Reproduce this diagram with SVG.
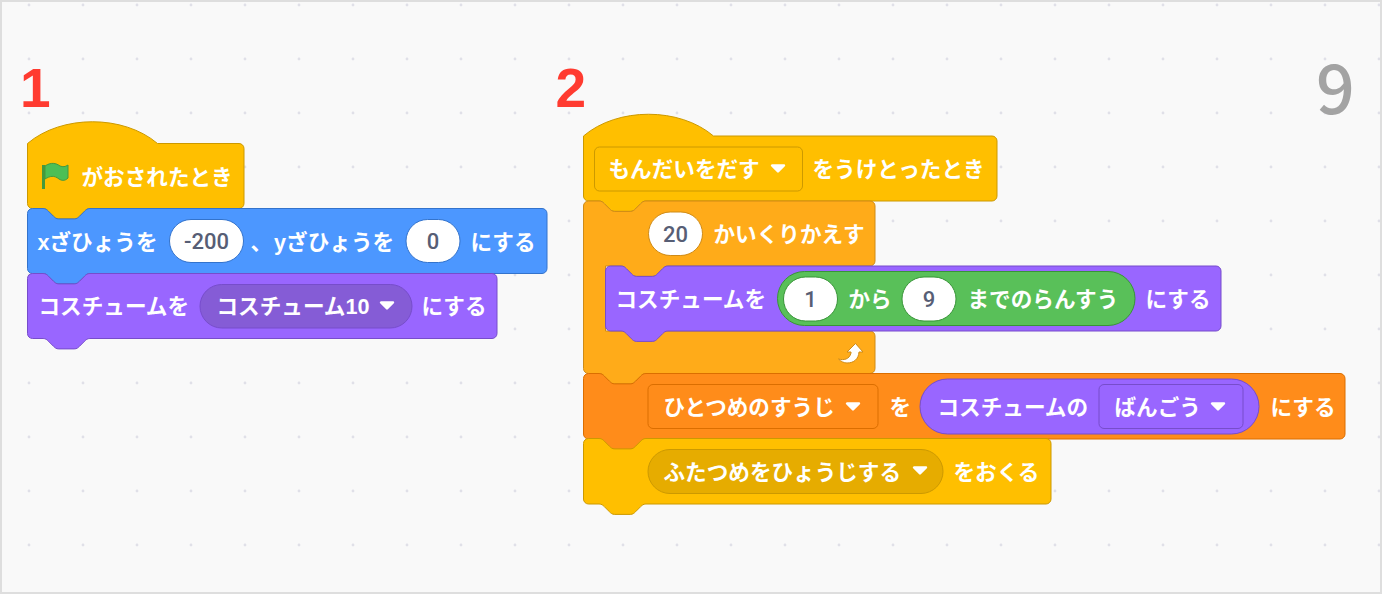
<svg xmlns="http://www.w3.org/2000/svg" width="1382" height="594" viewBox="0 0 1382 594">
<style>
.t{font-family:"Liberation Sans","Noto Sans CJK JP",sans-serif;font-weight:700;font-size:21.6px;fill:#fff}
.n{font-family:"Roboto","Liberation Sans",sans-serif;font-weight:500;font-size:22px;fill:#575e75;text-anchor:middle}
.w{fill:#fff;stroke-width:1}
.ev{fill:#ffbf00;stroke:#cc9900}
.mo{fill:#4c97ff;stroke:#3373cc}
.lo{fill:#9966ff;stroke:#774dcb}
.ct{fill:#ffab19;stroke:#cf8b17}
.da{fill:#ff8c1a;stroke:#db6e00}
.op{fill:#59c059;stroke:#389438}
.big{font-family:"Liberation Sans",sans-serif;font-weight:700;font-size:55px;fill:#ff3b30}
</style>
<defs>
<pattern id="dots" x="2" y="-22" width="54" height="54" patternUnits="userSpaceOnUse"><circle cx="27" cy="27" r="1.4" fill="#e0e0e8"/></pattern>
<path id="arr" d="M-6-3.500h12l-6 6z" fill="#fff" stroke="#fff" stroke-width="2.400" stroke-linejoin="round"/>
</defs>
<rect width="1382" height="594" fill="#f9f9f9"/>
<rect width="1382" height="594" fill="url(#dots)"/>
<rect x="1" y="1" width="1380" height="592" fill="none" stroke="#dedede" stroke-width="2"/>
<text id="num1" class="big" x="20" y="107">1</text>
<text id="num2" class="big" x="555.500" y="107">2</text>
<text id="num9" x="1316" y="113.500" font-family="Noto Sans CJK JP,Noto Sans,sans-serif" font-size="68" font-weight="500" fill="#a3a3a3">9</text>

<g id="stack1-hat">
<path class="ev" d="M27.500 143.500c34-29 96-29 130 0H239a5 5 0 0 1 5 5V203.500a5 5 0 0 1-5 5H89.900c-2.600 0-3.900 1.300-5.200 2.600l-5.200 5.200c-1.300 1.300-2.600 2.600-5.200 2.600h-15.600c-2.600 0-3.900-1.300-5.200-2.600l-5.200-5.200c-1.300-1.300-2.600-2.600-5.200-2.600H32.500a5 5 0 0 1-5-5Z"/>
<path d="M43.500 165V189" stroke="#45993d" stroke-width="3" fill="none"/>
<path d="M45 166c6-4 11-3 15 0 3 1 5 1 8-1v13c-3 3-6 3-9 1-5-4-9-3-14 0Z" fill="#4cbf56" stroke="#45993d"/>
<text class="t" x="81.500" y="185">がおされたとき</text>
</g>

<g id="stack1-goto">
<path class="mo" d="M27.500 213.500a5 5 0 0 1 5-5H43.100c2.600 0 3.900 1.300 5.200 2.600l5.200 5.200c1.300 1.300 2.600 2.600 5.200 2.600h15.600c2.600 0 3.900-1.300 5.200-2.600l5.200-5.200c1.300-1.300 2.600-2.600 5.200-2.600H542a5 5 0 0 1 5 5V268.500a5 5 0 0 1-5 5H89.900c-2.600 0-3.900 1.300-5.200 2.600l-5.200 5.200c-1.300 1.300-2.600 2.600-5.200 2.600h-15.600c-2.600 0-3.900-1.300-5.200-2.600l-5.200-5.200c-1.300-1.300-2.600-2.600-5.200-2.600H32.500a5 5 0 0 1-5-5Z"/>
<text class="t" x="37.500" y="250">xざひょうを</text>
<rect class="w" x="169.500" y="219.500" width="74" height="43" rx="21.500" stroke="#3373cc"/>
<text class="n" x="206.500" y="249">-200</text>
<text class="t" x="250.500" y="250">、<tspan dx="2">yざひょうを</tspan></text>
<rect class="w" x="406" y="219.500" width="54" height="43" rx="21.500" stroke="#3373cc"/>
<text class="n" x="433" y="249">0</text>
<text class="t" x="470.500" y="250">にする</text>
</g>

<g id="stack1-costume">
<path class="lo" d="M27.500 278.500a5 5 0 0 1 5-5H43.100c2.600 0 3.900 1.300 5.200 2.600l5.200 5.200c1.300 1.300 2.600 2.600 5.200 2.600h15.600c2.600 0 3.900-1.300 5.200-2.600l5.200-5.200c1.300-1.300 2.600-2.600 5.200-2.600H492a5 5 0 0 1 5 5V333.500a5 5 0 0 1-5 5H89.900c-2.600 0-3.900 1.300-5.200 2.600l-5.200 5.200c-1.300 1.300-2.600 2.600-5.200 2.600h-15.600c-2.600 0-3.900-1.300-5.200-2.600l-5.200-5.200c-1.300-1.300-2.600-2.600-5.200-2.600H32.500a5 5 0 0 1-5-5Z"/>
<text class="t" x="38.500" y="314">コスチュームを</text>
<rect x="200" y="284.500" width="212" height="43.500" rx="21.700" fill="#855cd6" stroke="#774dcb"/>
<text class="t" x="216.500" y="314">コスチューム10</text>
<use href="#arr" x="387" y="306"/>
<text class="t" x="421.500" y="314">にする</text>
</g>

<g id="stack2-hat">
<path class="ev" d="M583.500 136c34-29 96-29 130 0H992a5 5 0 0 1 5 5V196a5 5 0 0 1-5 5H645.900c-2.600 0-3.900 1.300-5.200 2.600l-5.200 5.200c-1.300 1.300-2.600 2.600-5.200 2.600h-15.600c-2.600 0-3.900-1.300-5.200-2.600l-5.200-5.200c-1.300-1.300-2.600-2.600-5.200-2.600H588.500a5 5 0 0 1-5-5Z"/>
<rect class="ev" x="594.500" y="147" width="208" height="44" rx="5"/>
<text class="t" x="608.500" y="177">もんだいをだす</text>
<use href="#arr" x="778" y="169"/>
<text class="t" x="812.500" y="177">をうけとったとき</text>
</g>

<g id="stack2-repeat">
<path class="ct" d="M583.500 206a5 5 0 0 1 5-5H599.100c2.600 0 3.900 1.300 5.200 2.600l5.200 5.200c1.300 1.300 2.600 2.600 5.200 2.600h15.600c2.600 0 3.900-1.300 5.200-2.600l5.200-5.200c1.300-1.300 2.600-2.600 5.200-2.600H870a5 5 0 0 1 5 5V261a5 5 0 0 1-5 5H667.900c-2.600 0-3.900 1.300-5.200 2.600l-5.200 5.200c-1.300 1.300-2.600 2.600-5.200 2.600h-15.600c-2.600 0-3.900-1.300-5.200-2.600l-5.200-5.200c-1.300-1.300-2.600-2.600-5.200-2.600H605.500V331H870a5 5 0 0 1 5 5V368.500a5 5 0 0 1-5 5H645.900c-2.600 0-3.900 1.300-5.200 2.600l-5.200 5.200c-1.300 1.300-2.600 2.600-5.200 2.600h-15.600c-2.600 0-3.900-1.300-5.200-2.600l-5.200-5.200c-1.300-1.300-2.600-2.600-5.200-2.600H588.500a5 5 0 0 1-5-5Z"/>
<rect class="w" x="648.500" y="212" width="54" height="43.500" rx="21.700" stroke="#cf8b17"/>
<text class="n" x="675.500" y="241.500">20</text>
<text class="t" x="713.500" y="242">かいくりかえす</text>
<path d="M838.500 359c5 1.500 11 .5 12.500-6v-1h-4l8.500-8.500 7.500 8.500h-4c-.5 7-5 11-12 11-3 0-6-1.500-8.500-4Z" fill="#fff" stroke="#cf8b17" stroke-linejoin="round"/>
</g>

<g id="stack2-costume">
<path class="lo" d="M605.500 271a5 5 0 0 1 5-5H621.100c2.600 0 3.900 1.300 5.200 2.600l5.200 5.200c1.300 1.300 2.600 2.600 5.200 2.600h15.600c2.600 0 3.900-1.300 5.200-2.600l5.200-5.200c1.300-1.300 2.600-2.600 5.200-2.600H1216a5 5 0 0 1 5 5V326a5 5 0 0 1-5 5H667.900c-2.600 0-3.900 1.300-5.200 2.600l-5.200 5.200c-1.300 1.300-2.600 2.600-5.200 2.600h-15.600c-2.600 0-3.900-1.300-5.200-2.600l-5.200-5.200c-1.300-1.300-2.600-2.600-5.200-2.600H610.500a5 5 0 0 1-5-5Z"/>
<text class="t" x="615.500" y="307">コスチュームを</text>
<rect class="op" x="777.500" y="271.500" width="357.500" height="54" rx="27"/>
<rect class="w" x="783.500" y="277" width="54" height="44" rx="22" stroke="#389438"/>
<text class="n" x="810.500" y="306.500">1</text>
<text class="t" x="848.500" y="307">から</text>
<rect class="w" x="902" y="277" width="54" height="44" rx="22" stroke="#389438"/>
<text class="n" x="929" y="306.500">9</text>
<text class="t" x="967.500" y="307">までのらんすう</text>
<text class="t" x="1145.500" y="307">にする</text>
</g>

<g id="stack2-setvar">
<path class="da" d="M583.500 378.500a5 5 0 0 1 5-5H599.100c2.600 0 3.900 1.300 5.200 2.600l5.200 5.200c1.300 1.300 2.600 2.600 5.200 2.600h15.600c2.600 0 3.900-1.300 5.200-2.600l5.200-5.200c1.300-1.300 2.600-2.600 5.200-2.600H1340a5 5 0 0 1 5 5V434a5 5 0 0 1-5 5H645.900c-2.600 0-3.900 1.300-5.200 2.600l-5.200 5.200c-1.300 1.300-2.600 2.600-5.200 2.600h-15.600c-2.600 0-3.900-1.300-5.200-2.600l-5.200-5.200c-1.300-1.300-2.600-2.600-5.200-2.600H588.500a5 5 0 0 1-5-5Z"/>
<rect class="da" x="648" y="384.500" width="230" height="44" rx="5"/>
<text class="t" x="663.500" y="415">ひとつめのすうじ</text>
<use href="#arr" x="853" y="407"/>
<text class="t" x="889.500" y="415">を</text>
<rect class="lo" x="920" y="379" width="339" height="55" rx="27.500"/>
<text class="t" x="937.500" y="415">コスチュームの</text>
<rect class="lo" x="1099" y="384.500" width="144" height="44" rx="5"/>
<text class="t" x="1114.500" y="415">ばんごう</text>
<use href="#arr" x="1218" y="407"/>
<text class="t" x="1270.500" y="415">にする</text>
</g>

<g id="stack2-broadcast">
<path class="ev" d="M583.500 443.500a5 5 0 0 1 5-5H599.100c2.600 0 3.900 1.300 5.200 2.600l5.200 5.200c1.300 1.300 2.600 2.600 5.200 2.600h15.600c2.600 0 3.900-1.300 5.200-2.600l5.200-5.200c1.300-1.300 2.600-2.600 5.200-2.600H1046a5 5 0 0 1 5 5V499a5 5 0 0 1-5 5H645.900c-2.600 0-3.900 1.300-5.200 2.600l-5.200 5.200c-1.300 1.300-2.600 2.600-5.200 2.600h-15.600c-2.600 0-3.900-1.300-5.200-2.600l-5.200-5.200c-1.300-1.300-2.600-2.600-5.200-2.600H588.500a5 5 0 0 1-5-5Z"/>
<rect x="648" y="449.500" width="295" height="44" rx="22" fill="#e6ac00" stroke="#cc9900"/>
<text class="t" x="663.500" y="480">ふたつめをひょうじする</text>
<use href="#arr" x="920" y="471"/>
<text class="t" x="953.500" y="480">をおくる</text>
</g>
</svg>
